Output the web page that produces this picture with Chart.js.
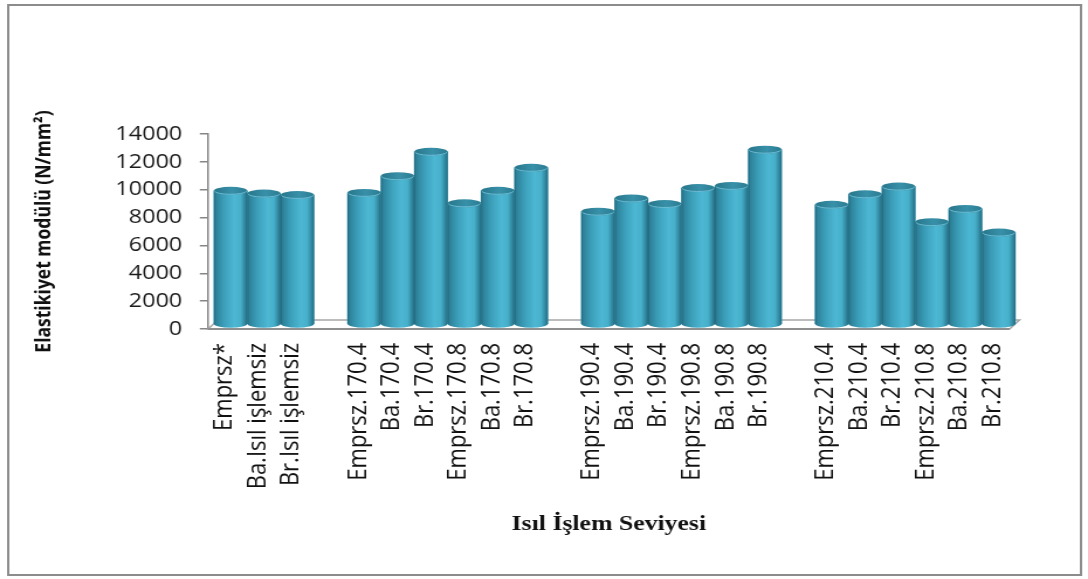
<!DOCTYPE html>
<html>
<head>
<meta charset="utf-8">
<script src="https://cdn.jsdelivr.net/npm/chart.js@4.4.0/dist/chart.umd.min.js"></script>
<style>
  html, body { margin: 0; padding: 0; background: #ffffff; overflow: hidden; }
  #c { display: block; width: 1088px !important; height: 579px !important; }
</style>
</head>
<body>
<canvas id="c" width="930" height="579" style="width:1088px;height:579px"></canvas>
<script>
// Heat-treatment levels (empty strings keep the gaps between groups)
const categories = [
  'Emprsz*', 'Ba.Isıl işlemsiz', 'Br.Isıl işlemsiz', '',
  'Emprsz.170.4', 'Ba.170.4', 'Br.170.4', 'Emprsz.170.8', 'Ba.170.8', 'Br.170.8', '',
  'Emprsz.190.4', 'Ba.190.4', 'Br.190.4', 'Emprsz.190.8', 'Ba.190.8', 'Br.190.8', '',
  'Emprsz.210.4', 'Ba.210.4', 'Br.210.4', 'Emprsz.210.8', 'Ba.210.8', 'Br.210.8'
];

// Modulus of elasticity, N/mm²
const elasticModulus = [
  9600, 9400, 9300, null,
  9450, 10650, 12400, 8700, 9600, 11250, null,
  8100, 9050, 8650, 9800, 9950, 12550, null,
  8600, 9350, 9900, 7350, 8300, 6600
];

const yTickValues = [0, 2000, 4000, 6000, 8000, 10000, 12000, 14000];
const yAxisTitle = 'Elastikiyet modülü (N/mm²)';
const xAxisTitle = 'Isıl İşlem Seviyesi';

// 3D look: bars stand half-way into a shallow floor
const BAR_DX = 5, BAR_DY = -4.5;      // offset of bars into the depth
const FLOOR_DX = 8.5, FLOOR_DY = -9;  // full floor depth
const CAP_RY = 4;                     // vertical radius of the cylinder ends

function bodyGradient(ctx, x0, x1) {
  const g = ctx.createLinearGradient(x0, 0, x1, 0);
  g.addColorStop(0.00, '#1f6477');
  g.addColorStop(0.06, '#2d8199');
  g.addColorStop(0.30, '#3c9fba');
  g.addColorStop(0.62, '#4db8d4');
  g.addColorStop(0.80, '#47afca');
  g.addColorStop(0.94, '#2e829a');
  g.addColorStop(1.00, '#236a7e');
  return g;
}

function capGradient(ctx, x0, x1) {
  const g = ctx.createLinearGradient(x0, 0, x1, 0);
  g.addColorStop(0.0, '#28768b');
  g.addColorStop(0.55, '#3891a9');
  g.addColorStop(1.0, '#2b7c92');
  return g;
}

const cylinderPlugin = {
  id: 'cylinders',
  beforeDatasetsDraw(chart) {
    const { ctx, chartArea } = chart;
    const y0 = chart.scales.y.getPixelForValue(0);
    // floor
    ctx.save();
    ctx.beginPath();
    ctx.moveTo(chartArea.left, y0);
    ctx.lineTo(chartArea.right, y0);
    ctx.lineTo(chartArea.right + FLOOR_DX, y0 + FLOOR_DY);
    ctx.lineTo(chartArea.left + FLOOR_DX, y0 + FLOOR_DY);
    ctx.closePath();
    ctx.fillStyle = '#ffffff';
    ctx.fill();
    ctx.lineWidth = 1.5;
    ctx.strokeStyle = '#a6a6a6';
    ctx.stroke();
    ctx.beginPath();
    ctx.moveTo(chartArea.left, y0);
    ctx.lineTo(chartArea.right, y0);
    ctx.lineWidth = 2;
    ctx.strokeStyle = '#8f8f8f';
    ctx.stroke();
    ctx.restore();
    // bars are drawn shifted into the depth of the floor
    ctx.save();
    ctx.translate(BAR_DX, BAR_DY);
  },
  afterDatasetsDraw(chart) {
    const ctx = chart.ctx;
    const meta = chart.getDatasetMeta(0);
    const data = chart.data.datasets[0].data;
    meta.data.forEach((el, i) => {
      if (data[i] == null) return;
      const { x, y, base, width } = el.getProps(['x', 'y', 'base', 'width'], true);
      if (![x, y, base, width].every(Number.isFinite)) return;
      const rx = width / 2;
      const body = bodyGradient(ctx, x - rx, x + rx);
      // shaded cylinder body with rounded bottom
      ctx.beginPath();
      ctx.moveTo(x - rx, y);
      ctx.lineTo(x + rx, y);
      ctx.lineTo(x + rx, base);
      ctx.ellipse(x, base, rx, CAP_RY, 0, 0, Math.PI);
      ctx.closePath();
      ctx.fillStyle = body;
      ctx.fill();
      // top cap
      ctx.beginPath();
      ctx.ellipse(x, y, rx, CAP_RY, 0, 0, Math.PI * 2);
      ctx.fillStyle = capGradient(ctx, x - rx, x + rx);
      ctx.fill();
      ctx.beginPath();
      ctx.ellipse(x, y, rx - 0.5, CAP_RY - 0.5, 0, 0.1, Math.PI - 0.1);
      ctx.lineWidth = 1;
      ctx.strokeStyle = 'rgba(120,200,222,0.8)';
      ctx.stroke();
    });
    ctx.restore();
  },
  afterDraw(chart) {
    const ctx = chart.ctx;
    ctx.save();
    ctx.lineWidth = 2;
    ctx.strokeStyle = '#8c8c8c';
    ctx.strokeRect(7, 5, 917, 570);
    ctx.restore();
  }
};

Chart.defaults.font.family = "'Open Sans', 'Noto Sans', sans-serif";
Chart.defaults.color = '#1a1a1a';

new Chart(document.getElementById('c'), {
  type: 'bar',
  data: {
    labels: categories,
    datasets: [{
      data: elasticModulus,
      clip: false,
      barPercentage: 1.0,
      categoryPercentage: 1.0,
      borderWidth: 0,
      backgroundColor: '#4bacc6'
    }]
  },
  options: {
    responsive: false,
    animation: false,
    devicePixelRatio: 1,
    layout: { padding: { left: 28, right: 67, top: 134, bottom: 41.4 } },
    plugins: { legend: { display: false }, tooltip: { enabled: false } },
    scales: {
      x: {
        grid: { display: false, drawTicks: false },
        border: { display: false },
        ticks: {
          autoSkip: false,
          minRotation: 90,
          maxRotation: 90,
          padding: 14,
          color: '#111111',
          font: { size: 22 }
        },
        title: {
          display: true,
          text: xAxisTitle,
          color: '#111111',
          padding: { top: 0, bottom: 0 },
          font: { family: "'Liberation Serif', 'Times New Roman', serif", size: 22, weight: 'bold' }
        },
        afterFit(scale) { scale.height = 208.6; }
      },
      y: {
        min: 0,
        max: 14000,
        afterBuildTicks(scale) { scale.ticks = yTickValues.map(v => ({ value: v })); },
        grid: { display: true, drawOnChartArea: false, drawTicks: true, tickLength: 7, color: '#868686', lineWidth: 1.5 },
        border: { display: true, color: '#868686', width: 1.5 },
        ticks: {
          padding: 15,
          color: '#1a1a1a',
          font: { size: 20 },
          callback: (value) => String(value)
        },
        title: {
          display: true,
          text: yAxisTitle,
          color: '#111111',
          padding: { top: 0, bottom: 0 },
          font: { size: 17.5, weight: 'bold' }
        },
        afterFit(scale) { scale.width = 149.8; }
      }
    }
  },
  plugins: [cylinderPlugin]
});
</script>
</body>
</html>
